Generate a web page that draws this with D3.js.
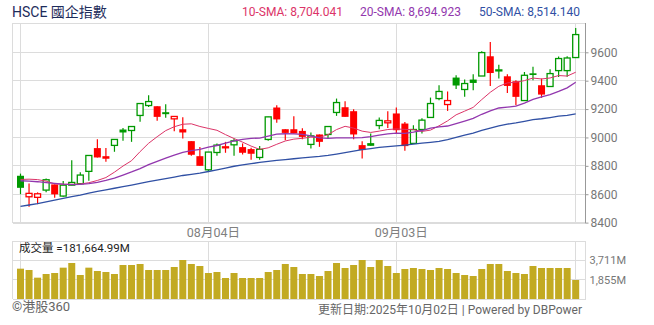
<!DOCTYPE html>
<html>
<head>
<meta charset="utf-8">
<script src="https://cdn.jsdelivr.net/npm/d3@7"></script>
<style>
body { margin: 0; background: #fff; }
svg { display: block; font-family: Roboto, "Noto Sans CJK TC", sans-serif; }
</style>
</head>
<body>
<svg id="chart" width="654" height="325"></svg>
<script>
// daily candles, HSCE
var opens = [8730, 8582, 8578, 8629, 8669, 8587, 8664, 8674, 8761, 8925,
	8868, 8944, 9056, 9049, 9155, 9225, 9220, 9178, 9131, 9058,
	8974, 8868, 8772, 8894, 8930, 8948, 8932, 8918, 8859, 8986,
	9211, 9058, 9058, 9046, 8951, 9021, 9021, 9176, 9213, 9185,
	8946, 8960, 9084, 9103, 9169, 9098, 8958, 9056, 9141, 9274,
	9232, 9422, 9338, 9408, 9433, 9572, 9470, 9431, 9396, 9260,
	9452, 9368, 9359, 9471, 9471, 9563];
var highs = [8745, 8676, 8613, 8711, 8669, 8693, 8840, 8754, 8873, 8988,
	8925, 8986, 9067, 9077, 9239, 9298, 9220, 9234, 9148, 9143,
	8974, 8932, 8897, 8958, 8969, 8993, 8958, 8927, 8939, 9145,
	9227, 9058, 9150, 9065, 9035, 9021, 9077, 9274, 9255, 9199,
	8974, 9028, 9141, 9185, 9211, 9108, 9086, 9136, 9281, 9368,
	9324, 9438, 9408, 9445, 9607, 9672, 9513, 9445, 9403, 9461,
	9499, 9415, 9480, 9570, 9572, 9771];
var lows = [8600, 8512, 8530, 8613, 8575, 8582, 8664, 8674, 8695, 8859,
	8828, 8899, 8976, 8969, 9110, 9215, 9117, 9138, 9044, 8993,
	8871, 8800, 8756, 8871, 8892, 8871, 8880, 8842, 8842, 8976,
	9103, 8981, 9028, 8988, 8923, 8934, 8997, 9152, 9145, 8988,
	8852, 8941, 9058, 9067, 9032, 8906, 8958, 9028, 9141, 9262,
	9187, 9342, 9286, 9333, 9433, 9363, 9415, 9314, 9227, 9260,
	9403, 9279, 9359, 9426, 9428, 9563];
var closes = [8645, 8606, 8603, 8702, 8599, 8664, 8683, 8735, 8873, 8859,
	8850, 8986, 9035, 9077, 9239, 9253, 9145, 9164, 9148, 9035,
	8878, 8800, 8897, 8946, 8934, 8976, 8892, 8885, 8916, 9145,
	9127, 9032, 9028, 9004, 9011, 8969, 9077, 9246, 9145, 9021,
	8911, 8941, 9120, 9117, 9051, 8939, 9056, 9122, 9239, 9324,
	9260, 9366, 9380, 9384, 9598, 9454, 9476, 9363, 9286, 9438,
	9440, 9302, 9450, 9556, 9560, 9725];
// turnover, millions
var volumes = [2886, 2760, 2030, 2379, 2474, 2982, 3426, 2284, 2982, 2664,
	2569, 2379, 3235, 3235, 3331, 2760, 2760, 2760, 3045, 3711,
	3331, 3140, 2474, 2569, 1998, 2474, 1998, 1998, 1998, 2569,
	2760, 3331, 3045, 2379, 2379, 2189, 2664, 3426, 2950, 3235,
	3711, 3045, 3711, 3140, 2474, 2855, 2950, 2855, 2760, 2950,
	2855, 2474, 2284, 2189, 2855, 3331, 3331, 2664, 2474, 2379,
	3140, 2950, 2950, 2950, 2950, 1808];

// averages before the window is full (older closes are off the chart)
var sma10Lead = [8704, 8706, 8703, 8692, 8673, 8670, 8670, 8672, 8681];
var sma20Lead = [8695, 8692, 8688, 8682, 8676, 8671, 8668, 8669, 8675, 8684,
	8697, 8714, 8735, 8757, 8781, 8808, 8832, 8855, 8876];
var sma50Lead = [8514, 8524, 8533, 8546, 8559, 8571, 8583, 8594, 8607, 8620,
	8631, 8642, 8653, 8664, 8676, 8688, 8699, 8710, 8721, 8732,
	8740, 8748, 8760, 8772, 8784, 8797, 8806, 8815, 8824, 8831,
	8838, 8844, 8850, 8856, 8862, 8867, 8874, 8883, 8893, 8904,
	8914, 8922, 8930, 8935, 8940, 8946, 8953, 8960, 8966];

var smaNames = ['10-SMA', '20-SMA', '50-SMA'];
var smaHeaderValues = [8704.041, 8694.923, 8514.140];
var smaColors = ['#dc3468', '#9237ae', '#3050a4'];

var yTicks = [8400, 8600, 8800, 9000, 9200, 9400, 9600];
var volTicks = [1855, 3711];
var xGridIdx = [0, 22, 44, 65];
var xTickIdx = [22, 44];
var xTickLabels = ['08月04日', '09月03日'];
var volTotal = 181664.99;

var UP = '#009900', DOWN = '#ff0000', GRID = '#dcdcdc', VOL = '#c2aa22';
var L = 12.5, R = 585.5, T = 23, B = 223, VT = 241, VB = 299;

var svg = d3.select('#chart');
var x = d3.scaleLinear().domain([0, closes.length - 1]).range([20.5, 575.7]);
var y = d3.scaleLinear().domain([8400, 9600]).range([222.6, 52.3]);
var v = d3.scaleLinear().domain([0, 3711]).range([VB, 260]);

function sma(lead, n){
	return closes.map(function(c, i){
		if (i < n - 1) return lead[i];
		return d3.mean(closes.slice(i - n + 1, i + 1));
	});
}
var smas = [sma(sma10Lead, 10), sma(sma20Lead, 20), sma(sma50Lead, 50)];

/** header **/
svg.append('text').attr('x', 12).attr('y', 17)
	.attr('font-size', 14).attr('fill', '#1d2c5b')
	.text('HSCE 國企指數');
var hx = [242, 360, 479];
smaNames.forEach(function(n, k){
	svg.append('text').attr('x', hx[k]).attr('y', 16)
		.attr('font-size', 12).attr('fill', smaColors[k])
		.text(n + ': ' + d3.format(',.3f')(smaHeaderValues[k]));
});

/** grid and frames **/
var grid = svg.append('g').attr('shape-rendering', 'crispEdges')
	.attr('stroke', GRID).attr('stroke-width', 1);
grid.selectAll('line.h').data(yTicks).enter().append('line')
	.attr('x1', L).attr('x2', R)
	.attr('y1', function(d){ return y(d); }).attr('y2', function(d){ return y(d); });
grid.selectAll('line.vh').data(volTicks).enter().append('line')
	.attr('x1', L).attr('x2', R)
	.attr('y1', function(d){ return v(d); }).attr('y2', function(d){ return v(d); });
xGridIdx.forEach(function(i){
	grid.append('line').attr('x1', x(i)).attr('x2', x(i)).attr('y1', T).attr('y2', B);
	grid.append('line').attr('x1', x(i)).attr('x2', x(i)).attr('y1', VT).attr('y2', VB);
});
[[L, T, R, T], [L, B, R, B], [L, T, L, B], [L, VT, R, VT], [L, VB, R, VB], [L, VT, L, VB]]
	.forEach(function(s){
		grid.append('line').attr('x1', s[0]).attr('y1', s[1]).attr('x2', s[2]).attr('y2', s[3]);
	});
var edge = svg.append('g').attr('shape-rendering', 'crispEdges').attr('stroke', '#999');
edge.append('line').attr('x1', R).attr('x2', R).attr('y1', T).attr('y2', B);
edge.append('line').attr('x1', R).attr('x2', R).attr('y1', VT).attr('y2', VB).attr('stroke', GRID);

/** candles **/
var candles = closes.map(function(c, i){
	return {i: i, o: opens[i], h: highs[i], l: lows[i], c: c,
		up: i === 0 || c >= closes[i - 1]};
});
var cg = svg.append('g');
cg.selectAll('line').data(candles).enter().append('line')
	.attr('x1', function(d){ return x(d.i); })
	.attr('x2', function(d){ return x(d.i); })
	.attr('y1', function(d){ return y(d.h); })
	.attr('y2', function(d){ return y(d.l); })
	.attr('stroke', function(d){ return d.up ? UP : DOWN; })
	.attr('stroke-width', 1.2);
cg.selectAll('rect').data(candles).enter().append('rect')
	.each(function(d){
		var col = d.up ? UP : DOWN;
		var r = d3.select(this);
		if (d.c > d.o){
			r.attr('x', x(d.i) - 3).attr('width', 6)
				.attr('y', y(d.c)).attr('height', Math.max(1, y(d.o) - y(d.c)))
				.attr('fill', '#fff').attr('stroke', col).attr('stroke-width', 1.3);
		}
		else {
			r.attr('x', x(d.i) - 3.5).attr('width', 7)
				.attr('y', y(d.o)).attr('height', Math.max(1.5, y(d.c) - y(d.o)))
				.attr('fill', col);
		}
	});

/** moving averages **/
var line = d3.line()
	.x(function(d, i){ return x(i); })
	.y(function(d){ return y(d); });
svg.selectAll('path.sma').data(smas).enter().append('path')
	.attr('class', 'sma')
	.attr('d', line)
	.attr('fill', 'none')
	.attr('stroke', function(d, k){ return smaColors[k]; })
	.attr('stroke-width', function(d, k){ return k === 0 ? 1 : 1.3; });

/** y axis **/
var ya = svg.append('g').attr('transform', 'translate(' + R + ',0)')
	.call(d3.axisRight(y).tickValues(yTicks).tickSize(3).tickPadding(2).tickFormat(d3.format('d')));
ya.select('.domain').remove();
ya.selectAll('line').attr('stroke', '#999');
ya.selectAll('text').attr('fill', '#777').attr('font-size', 12)
	.attr('font-family', 'Roboto, sans-serif');

/** x labels **/
svg.selectAll('text.xl').data(xTickIdx).enter().append('text')
	.attr('x', function(d){ return x(d) + 5; })
	.attr('y', 236.5)
	.attr('text-anchor', 'middle')
	.attr('font-size', 12.5).attr('fill', '#808080')
	.text(function(d, k){ return xTickLabels[k]; });

/** volume **/
svg.append('g').selectAll('rect').data(volumes).enter().append('rect')
	.attr('x', function(d, i){ return x(i) - 3.5; })
	.attr('width', 7)
	.attr('y', function(d){ return v(d); })
	.attr('height', function(d){ return VB - v(d); })
	.attr('fill', VOL);
var va = svg.append('g').attr('transform', 'translate(' + R + ',0)')
	.call(d3.axisRight(v).tickValues(volTicks).tickSize(0).tickPadding(4)
		.tickFormat(function(d){ return d3.format(',')(d) + 'M'; }));
va.select('.domain').remove();
va.selectAll('text').attr('fill', '#777').attr('font-size', 11)
	.attr('font-family', 'Roboto, sans-serif');
svg.append('text').attr('x', 19).attr('y', 251.5)
	.attr('font-size', 11.5).attr('fill', '#222')
	.text('成交量 =' + d3.format(',.2f')(volTotal) + 'M');

/** footer **/
svg.append('text').attr('x', 12).attr('y', 311)
	.attr('font-size', 13).attr('fill', '#666')
	.text('©港股360');
svg.append('text').attr('x', 582).attr('y', 313.5)
	.attr('text-anchor', 'end')
	.attr('font-size', 12).attr('fill', '#666')
	.text('更新日期:2025年10月02日 | Powered by DBPower');
</script>
</body>
</html>
